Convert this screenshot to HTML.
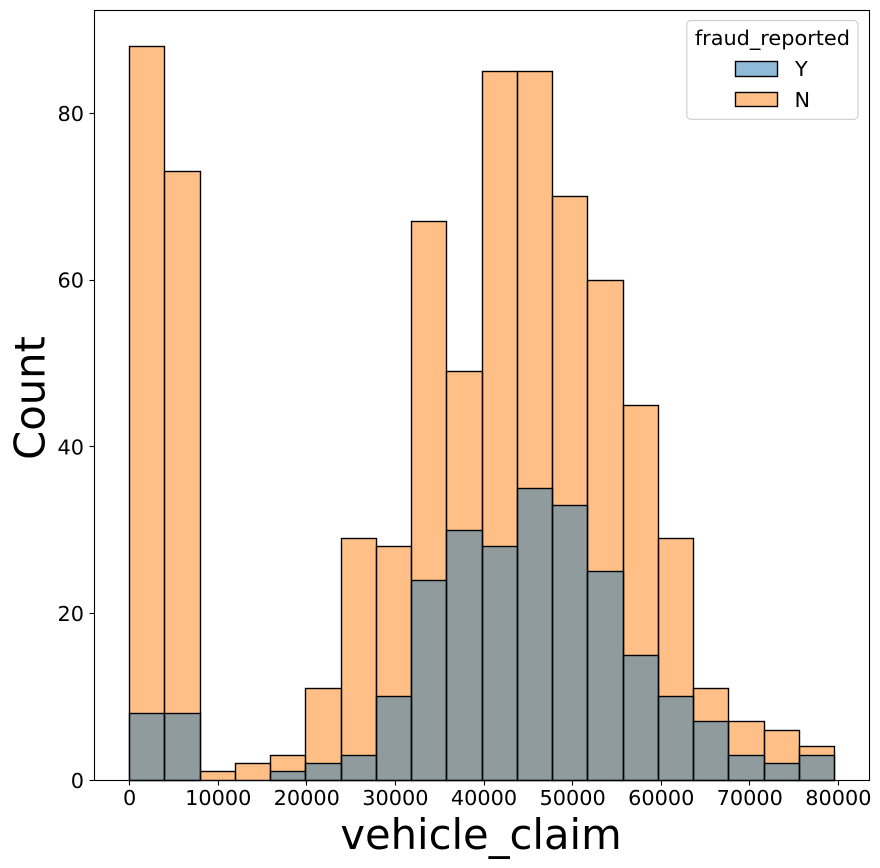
<!DOCTYPE html>
<html lang="en">
<head>
<meta charset="utf-8">
<title>vehicle_claim histogram</title>
<style>
html,body{margin:0;padding:0;background:#fff;}
svg{display:block;}
text{font-family:"DejaVu Sans","Liberation Sans",sans-serif;fill:#000;}
</style>
</head>
<body>
<svg id="chart" xmlns="http://www.w3.org/2000/svg" width="880" height="868" viewBox="0 0 880 868">
  <g id="bars-n"></g>
  <g id="bars-y"></g>
  <g id="x-axis"></g>
  <g id="y-axis"></g>
  <rect x="94.5" y="10.5" width="775" height="770" fill="none" stroke="#000" stroke-width="1.1"/>
  <text x="481" y="849" font-size="41.67" text-anchor="middle">vehicle_claim</text>
  <text transform="translate(44.5,398) rotate(-90)" font-size="41.67" text-anchor="middle">Count</text>
  <g>
    <rect x="686.8" y="20.6" width="171.2" height="98.7" rx="4" ry="4" fill="#fff" fill-opacity="0.8" stroke="#cccccc" stroke-width="1.1"/>
    <text x="772.4" y="45" font-size="20.83" text-anchor="middle">fraud_reported</text>
    <rect x="735.5" y="61.5" width="42" height="15" fill="#1f77b4" fill-opacity="0.5" stroke="#000" stroke-width="1.39"/>
    <text x="795" y="76" font-size="20.83">Y</text>
    <rect x="735.5" y="92.5" width="42" height="14" fill="#ff7f0e" fill-opacity="0.5" stroke="#000" stroke-width="1.39"/>
    <text x="794.5" y="107" font-size="20.83">N</text>
  </g>
</svg>
<script>
const binWidth = 3978;
const countsY = [8, 8, 0, 0, 1, 2, 3, 10, 24, 30, 28, 35, 33, 25, 15, 10, 7, 3, 2, 3];
const countsN = [88, 73, 1, 2, 3, 11, 29, 28, 67, 49, 85, 85, 70, 60, 45, 29, 11, 7, 6, 4];
const xTicks = [0, 10000, 20000, 30000, 40000, 50000, 60000, 70000, 80000];
const yTicks = [0, 20, 40, 60, 80];

const NS = 'http://www.w3.org/2000/svg';
function xPos(v) { return 129.6 + v * 0.00886; }
function yPos(v) { return 780.3 - v * 8.3375; }
function snap(p) { return Math.floor(p) + 0.5; }
function make(tag, attrs, parent) {
  const el = document.createElementNS(NS, tag);
  Object.keys(attrs).forEach(function (k) { el.setAttribute(k, attrs[k]); });
  parent.appendChild(el);
  return el;
}
function drawBars(values, color, parent, prefix) {
  values.forEach(function (v, i) {
    if (v <= 0) return;
    const x0 = snap(xPos(i * binWidth));
    const x1 = snap(xPos((i + 1) * binWidth));
    const y0 = snap(yPos(v));
    const y1 = snap(yPos(0));
    const r = make('rect', {
      x: x0, y: y0, width: x1 - x0, height: y1 - y0,
      fill: color, 'fill-opacity': 0.5, stroke: '#000', 'stroke-width': 1.39
    }, parent);
    
    
  });
}
drawBars(countsN, '#ff7f0e', document.getElementById('bars-n'), 'n');
drawBars(countsY, '#1f77b4', document.getElementById('bars-y'), 'y');

const xAxis = document.getElementById('x-axis');
xTicks.forEach(function (t) {
  const x = xPos(t);
  const line = make('line', { x1: snap(x), x2: snap(x), y1: 780.5, y2: 785.5, stroke: '#000', 'stroke-width': 1.1 }, xAxis);
  
  
  const label = make('text', { x: x, y: 805, 'font-size': 20.83, 'text-anchor': 'middle' }, xAxis);
  
  
  label.textContent = String(t);
});
const yAxis = document.getElementById('y-axis');
yTicks.forEach(function (t) {
  const y = yPos(t);
  const line = make('line', { x1: 89.5, x2: 94.5, y1: snap(y), y2: snap(y), stroke: '#000', 'stroke-width': 1.1 }, yAxis);
  
  
  const label = make('text', { x: 84, y: y + 7.5, 'font-size': 20.83, 'text-anchor': 'end' }, yAxis);
  
  
  label.textContent = String(t);
});
</script>
</body>
</html>
